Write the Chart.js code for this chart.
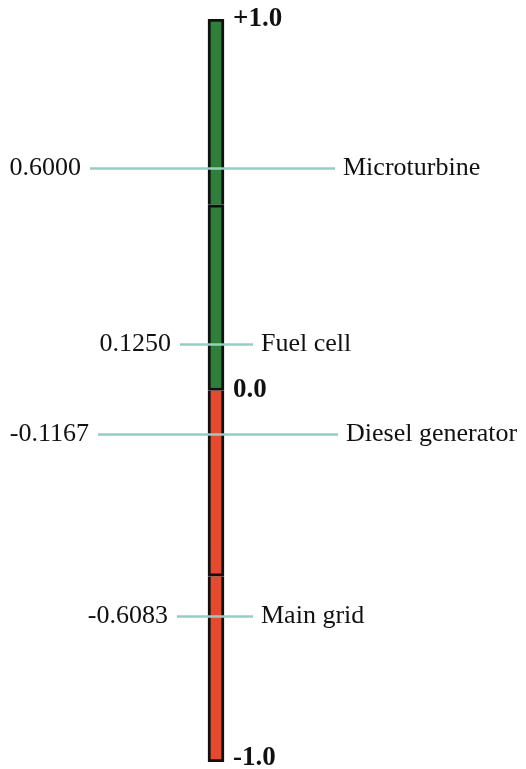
<!DOCTYPE html>
<html>
<head>
<meta charset="utf-8">
<script src="https://cdn.jsdelivr.net/npm/chart.js@4"></script>
<style>
  html, body { margin: 0; padding: 0; background: #fff; }
  #wrap { width: 526px; height: 769px; }
</style>
</head>
<body>
<div id="wrap"><canvas id="scale"></canvas></div>
<script>
// sources and their weights on the -1..+1 scale
const sources = ["Microturbine", "Fuel cell", "Diesel generator", "Main grid"];
const weights = [0.6, 0.125, -0.1167, -0.6083];
const weightLabels = ["0.6000", "0.1250", "-0.1167", "-0.6083"];

// the scale bar itself, split in halves
const segments = [0.5, 0.5, -0.5, -0.5];
const tickValues = [1, 0, -1];
const tickLabels = ["+1.0", "0.0", "-1.0"];

const green = "#2f7f3b";
const red = "#e5492e";
const leaderColor = "#8ed0c4";

// where each leader line starts / ends (layout only)
const leaderLeft = [90, 180, 98, 177];
const leaderRight = [335, 253, 338, 253];

const labelsPlugin = {
  id: "labels",
  afterDraw(chart) {
    const ctx = chart.ctx;
    const y = chart.scales.y;
    const meta = chart.getDatasetMeta(0).data[0];
    const barRight = meta.x + meta.width / 2;
    ctx.save();
    ctx.textBaseline = "middle";
    weights.forEach((w, i) => {
      const py = Math.round(y.getPixelForValue(w)) + 0.5;
      ctx.strokeStyle = leaderColor;
      ctx.lineWidth = 2.5;
      ctx.beginPath();
      ctx.moveTo(leaderLeft[i], py);
      ctx.lineTo(leaderRight[i], py);
      ctx.stroke();
      ctx.fillStyle = "#111";
      ctx.font = "26px 'Liberation Serif'";
      ctx.textAlign = "right";
      ctx.fillText(weightLabels[i], leaderLeft[i] - 9, py);
      ctx.textAlign = "left";
      ctx.fillText(sources[i], leaderRight[i] + 8, py);
    });
    ctx.font = "bold 27px 'Liberation Serif'";
    ctx.textAlign = "left";
    tickValues.forEach((v, i) => {
      const py = Math.min(y.getPixelForValue(v), chart.height - 11);
      ctx.fillText(tickLabels[i], barRight + 9, py);
    });
    ctx.restore();
  }
};

new Chart(document.getElementById("scale"), {
  type: "bar",
  data: {
    labels: [""],
    datasets: segments.map((s, i) => ({
      data: [s],
      backgroundColor: s > 0 ? green : red,
      borderColor: "#111",
      borderWidth: 3,
      borderSkipped: i === 0 ? false : "start",
      barThickness: 16
    }))
  },
  options: {
    responsive: true,
    maintainAspectRatio: false,
    animation: false,
    layout: { padding: { top: 19, bottom: 7, left: 0, right: 94 } },
    plugins: {
      legend: { display: false },
      tooltip: { enabled: false }
    },
    scales: {
      x: { stacked: true, display: false },
      y: { stacked: true, display: false, min: -1, max: 1 }
    }
  },
  plugins: [labelsPlugin]
});
</script>
</body>
</html>
